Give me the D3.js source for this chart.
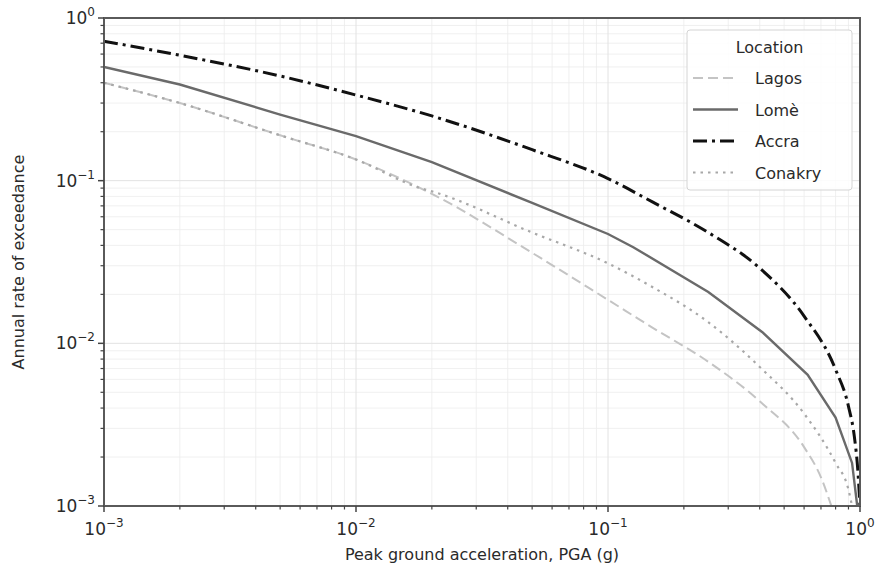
<!DOCTYPE html>
<html>
<head>
<meta charset="utf-8">
<script src="https://cdn.jsdelivr.net/npm/d3@7"></script>
<style>
  body { margin: 0; background: #fff; }
  svg { font-family: "DejaVu Sans", sans-serif; }
</style>
</head>
<body>
<svg id="chart" width="881" height="574"></svg>
<script>
// values
const locations = ["Lagos", "Lomè", "Accra", "Conakry"];

const lagosPga = [0.001, 0.002, 0.005, 0.01, 0.018, 0.02, 0.05, 0.1, 0.15, 0.25, 0.4, 0.6, 0.7, 0.77];
const lagosRate = [0.40, 0.30, 0.19, 0.135, 0.090, 0.083, 0.036, 0.0185, 0.0125, 0.0077, 0.0044, 0.0023, 0.0015, 0.001];

const lomePga = [0.001, 0.002, 0.005, 0.01, 0.02, 0.05, 0.1, 0.126, 0.25, 0.41, 0.62, 0.8, 0.93, 0.975];
const lomeRate = [0.50, 0.39, 0.255, 0.188, 0.13, 0.073, 0.047, 0.039, 0.0207, 0.0117, 0.0064, 0.0035, 0.00184, 0.001];

const accraPga = [0.001, 0.002, 0.005, 0.01, 0.02, 0.05, 0.1, 0.15, 0.25, 0.4, 0.6, 0.8, 0.9, 0.95, 0.98, 1.0];
const accraRate = [0.72, 0.59, 0.44, 0.336, 0.25, 0.155, 0.103, 0.074, 0.048, 0.029, 0.0147, 0.0069, 0.0041, 0.00266, 0.00167, 0.001];

const conakryPga = [0.001, 0.002, 0.005, 0.01, 0.018, 0.02, 0.05, 0.1, 0.15, 0.25, 0.4, 0.6, 0.8, 0.9, 0.93];
const conakryRate = [0.40, 0.30, 0.19, 0.135, 0.090, 0.086, 0.048, 0.031, 0.0222, 0.0135, 0.00716, 0.0037, 0.00184, 0.00126, 0.001];

const xMajor = [1e-3, 1e-2, 1e-1, 1e0];
const yMajor = [1e-3, 1e-2, 1e-1, 1e0];
const tickExp = ["\u22123", "\u22122", "\u22121", "0"];

const margin = { top: 18, right: 21, bottom: 68, left: 104 },
  width = 881 - margin.left - margin.right,
  height = 574 - margin.top - margin.bottom;

const svg = d3.select("#chart");
const g = svg.append("g").attr("transform", `translate(${margin.left},${margin.top})`);

const x = d3.scaleLog().domain([1e-3, 1]).range([0, width]);
const y = d3.scaleLog().domain([1e-3, 1]).range([height, 0]);

// minor values between decades
const minors = [];
for (let e = -3; e < 0; e++) {
  for (let m = 2; m <= 9; m++) minors.push(m * Math.pow(10, e));
}

// grid
g.append("g").selectAll("line").data(minors).join("line")
  .attr("x1", d => x(d)).attr("x2", d => x(d)).attr("y1", 0).attr("y2", height)
  .attr("stroke", "#ececec").attr("stroke-width", 0.8);
g.append("g").selectAll("line").data(minors).join("line")
  .attr("y1", d => y(d)).attr("y2", d => y(d)).attr("x1", 0).attr("x2", width)
  .attr("stroke", "#ececec").attr("stroke-width", 0.8);
g.append("g").selectAll("line").data(xMajor).join("line")
  .attr("x1", d => x(d)).attr("x2", d => x(d)).attr("y1", 0).attr("y2", height)
  .attr("stroke", "#e2e2e2").attr("stroke-width", 1);
g.append("g").selectAll("line").data(yMajor).join("line")
  .attr("y1", d => y(d)).attr("y2", d => y(d)).attr("x1", 0).attr("x2", width)
  .attr("stroke", "#e2e2e2").attr("stroke-width", 1);

// curves (Lomè keeps its visible kinks, the others are smooth)
const series = [
  { name: locations[0], pga: lagosPga, rate: lagosRate, color: "#c4c4c4", width: 2, dash: "10,5", smooth: true },
  { name: locations[1], pga: lomePga, rate: lomeRate, color: "#6a6a6a", width: 2.4, dash: null, smooth: false },
  { name: locations[2], pga: accraPga, rate: accraRate, color: "#111", width: 3, dash: "14,5,3,5", smooth: true },
  { name: locations[3], pga: conakryPga, rate: conakryRate, color: "#a8a8a8", width: 2.2, dash: "2.5,5", smooth: true }
];

const lineLinear = d3.line().x(d => x(d[0])).y(d => y(d[1]));
const lineSmooth = d3.line().x(d => x(d[0])).y(d => y(d[1])).curve(d3.curveMonotoneX);

svg.append("defs").append("clipPath").attr("id", "clip")
  .append("rect").attr("width", width).attr("height", height);

const plot = g.append("g").attr("clip-path", "url(#clip)");
series.forEach(s => {
  plot.append("path")
    .datum(s.pga.map((p, i) => [p, s.rate[i]]))
    .attr("d", s.smooth ? lineSmooth : lineLinear)
    .attr("fill", "none")
    .attr("stroke", s.color)
    .attr("stroke-width", s.width)
    .attr("stroke-dasharray", s.dash);
});

// frame
g.append("rect").attr("width", width).attr("height", height)
  .attr("fill", "none").attr("stroke", "#5a5a5a").attr("stroke-width", 2);

// ticks
const tickColor = "#444";
g.append("g").selectAll("line").data(xMajor).join("line")
  .attr("x1", d => x(d)).attr("x2", d => x(d)).attr("y1", height).attr("y2", height + 6)
  .attr("stroke", tickColor).attr("stroke-width", 1.5);
g.append("g").selectAll("line").data(minors).join("line")
  .attr("x1", d => x(d)).attr("x2", d => x(d)).attr("y1", height).attr("y2", height + 3.5)
  .attr("stroke", tickColor).attr("stroke-width", 1.2);
g.append("g").selectAll("line").data(yMajor).join("line")
  .attr("y1", d => y(d)).attr("y2", d => y(d)).attr("x1", 0).attr("x2", -6)
  .attr("stroke", tickColor).attr("stroke-width", 1.5);
g.append("g").selectAll("line").data(minors).join("line")
  .attr("y1", d => y(d)).attr("y2", d => y(d)).attr("x1", 0).attr("x2", -3.5)
  .attr("stroke", tickColor).attr("stroke-width", 1.2);

const textColor = "#2a2a2a";

function powLabel(sel, exp) {
  sel.append("tspan").text("10");
  sel.append("tspan").attr("dy", -8).attr("font-size", 12).text(exp);
}

xMajor.forEach((d, i) => {
  const t = g.append("text")
    .attr("x", x(d)).attr("y", height + 29)
    .attr("text-anchor", "middle")
    .attr("font-size", 17).attr("fill", textColor);
  powLabel(t, tickExp[i]);
});

yMajor.forEach((d, i) => {
  const t = g.append("text")
    .attr("x", -9).attr("y", y(d) + 6)
    .attr("text-anchor", "end")
    .attr("font-size", 17).attr("fill", textColor);
  powLabel(t, tickExp[i]);
});

// axis titles
g.append("text")
  .attr("x", width / 2).attr("y", height + 54)
  .attr("text-anchor", "middle")
  .attr("font-size", 16).attr("fill", textColor)
  .text("Peak ground acceleration, PGA (g)");

g.append("text")
  .attr("transform", `translate(${-80},${height / 2}) rotate(-90)`)
  .attr("text-anchor", "middle")
  .attr("font-size", 16).attr("fill", textColor)
  .text("Annual rate of exceedance");

// legend
const legend = svg.append("g").attr("transform", "translate(687,30)");
legend.append("rect")
  .attr("width", 165).attr("height", 160).attr("rx", 3)
  .attr("fill", "#fff").attr("fill-opacity", 0.85)
  .attr("stroke", "#d4d4d4").attr("stroke-width", 1);
legend.append("text")
  .attr("x", 82.5).attr("y", 23)
  .attr("text-anchor", "middle")
  .attr("font-size", 16).attr("fill", textColor)
  .text("Location");

series.forEach((s, i) => {
  const yy = 48 + i * 31.5;
  legend.append("line")
    .attr("x1", 6).attr("x2", 51).attr("y1", yy).attr("y2", yy)
    .attr("stroke", s.color).attr("stroke-width", s.width)
    .attr("stroke-dasharray", s.dash);
  legend.append("text")
    .attr("x", 68).attr("y", yy + 6)
    .attr("font-size", 16).attr("fill", textColor)
    .text(s.name);
});
</script>
</body>
</html>
